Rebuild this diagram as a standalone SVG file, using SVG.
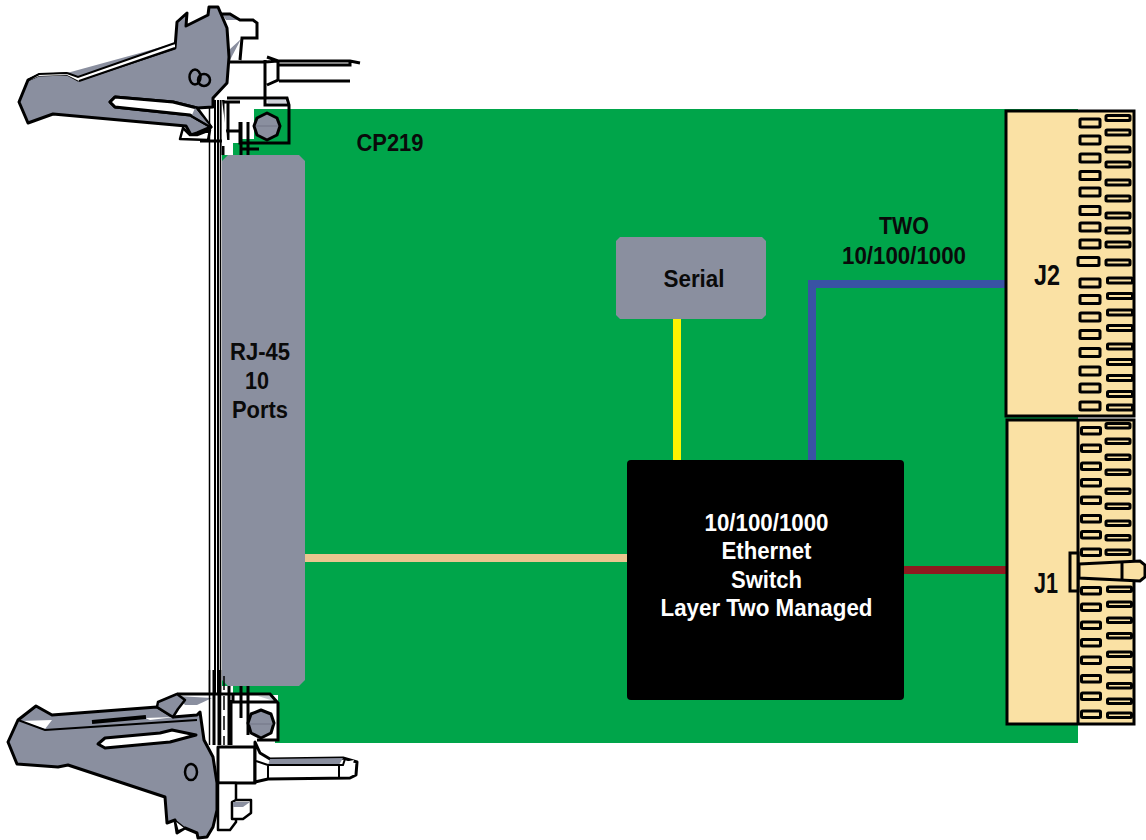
<svg xmlns="http://www.w3.org/2000/svg" width="1146" height="840" viewBox="0 0 1146 840">
<style>
.t{font-family:"Liberation Sans",Arial,sans-serif;font-weight:700;font-size:23.500px;text-anchor:middle;fill:#0a0a0a}
.big{font-size:29px}
.wt{fill:#fff}
.w{fill:#fff}
.g{fill:#8a8f9f}
.gs{fill:#8a8f9f;stroke:#000;stroke-width:3;stroke-linejoin:round}
.ws{fill:#fff;stroke:#000;stroke-width:3;stroke-linejoin:round}
.l{fill:none;stroke:#000;stroke-width:3}
.m{fill:none;stroke:#000;stroke-width:2}
.lt{fill:none;stroke:#000;stroke-width:1.500}
.hair{fill:none;stroke:#6c7080;stroke-width:.8}
.conn{fill:#fae1a4;stroke:#000;stroke-width:3}
.pin{fill:#fae1a4;stroke:#000;stroke-width:3}
.wire{fill:none;stroke-width:8}
</style>
<rect width="1146" height="840" fill="#fff"/>
<g id="board">
<path d="M254 109H1078V743H275V740H258V720H233V686H222V155H233V139H254Z" fill="#00a54a"/>
<path class="w" d="M248 695H278V738H248Z"/>
<path fill="#00a54a" d="M278 703V740H282V703Z"/>
</g>
<g id="faceplate-rails">
<path class="lt" d="M209.500 100V745M220.500 100V745"/>
<path class="m" d="M215 100V745M218 100V745"/>
</g>
<g id="connectors">
<path class="wire" stroke="#fff200" d="M677 319V460"/>
<path class="wire" stroke="#3953a4" d="M812 460V284H1006"/>
<path class="wire" stroke="#e9c690" d="M305 558H627"/>
<path class="wire" stroke="#8e1a1f" d="M904 570H1006"/>
</g>
<g id="rj45">
<path class="g" d="M228 155H299L305 161V680L299 686H228L222 680V161Z"/>
<text class="t" x="260" y="360" textLength="60" lengthAdjust="spacingAndGlyphs">RJ-45</text>
<text class="t" x="257" y="389" textLength="24" lengthAdjust="spacingAndGlyphs">10</text>
<text class="t" x="260" y="418" textLength="56" lengthAdjust="spacingAndGlyphs">Ports</text>
</g>
<g id="label-cp219"><text class="t" x="390" y="151" textLength="67" lengthAdjust="spacingAndGlyphs">CP219</text></g>
<g id="serial">
<path class="g" d="M620 237H762L766 241V315L762 319H620L616 315V241Z"/>
<text class="t" x="694" y="287" textLength="61" lengthAdjust="spacingAndGlyphs">Serial</text>
</g>
<g id="switch">
<rect x="627" y="460" width="277" height="240" rx="4" fill="#000"/>
<text class="t wt" x="766.500" y="531" textLength="124" lengthAdjust="spacingAndGlyphs">10/100/1000</text>
<text class="t wt" x="766.500" y="559" textLength="90" lengthAdjust="spacingAndGlyphs">Ethernet</text>
<text class="t wt" x="766.500" y="588" textLength="71" lengthAdjust="spacingAndGlyphs">Switch</text>
<text class="t wt" x="766.500" y="616" textLength="212" lengthAdjust="spacingAndGlyphs">Layer Two Managed</text>
</g>
<g id="label-two">
<text class="t" x="904" y="234" textLength="50" lengthAdjust="spacingAndGlyphs">TWO</text>
<text class="t" x="904" y="264" textLength="124" lengthAdjust="spacingAndGlyphs">10/100/1000</text>
</g>
<g id="j2">
<rect class="conn" x="1006" y="111" width="128" height="305"/>
<g>
<rect class="pin" x="1080" y="119" width="20" height="8" rx="1"/><rect class="pin" x="1080" y="136" width="20" height="8" rx="1"/><rect class="pin" x="1080" y="154" width="20" height="8" rx="1"/><rect class="pin" x="1080" y="171.500" width="20" height="8" rx="1"/><rect class="pin" x="1080" y="188" width="20" height="8" rx="1"/><rect class="pin" x="1080" y="206.500" width="20" height="8" rx="1"/><rect class="pin" x="1080" y="223" width="20" height="8" rx="1"/><rect class="pin" x="1080" y="240" width="20" height="8" rx="1"/><rect class="pin" x="1078" y="257.500" width="21" height="8" rx="1"/><rect class="pin" x="1080" y="279" width="20" height="8" rx="1"/><rect class="pin" x="1080" y="295.500" width="20" height="8" rx="1"/><rect class="pin" x="1080" y="313" width="20" height="8" rx="1"/><rect class="pin" x="1080" y="330.500" width="20" height="8" rx="1"/><rect class="pin" x="1080" y="348.500" width="20" height="8" rx="1"/><rect class="pin" x="1080" y="367" width="20" height="8" rx="1"/><rect class="pin" x="1080" y="384" width="20" height="8" rx="1"/><rect class="pin" x="1080" y="402" width="20" height="8" rx="1"/>
<rect class="pin" x="1106" y="115.500" width="24" height="5" rx="1"/><rect class="pin" x="1106" y="130" width="24" height="5" rx="1"/><rect class="pin" x="1106" y="147" width="24" height="5" rx="1"/><rect class="pin" x="1106" y="162" width="24" height="5" rx="1"/><rect class="pin" x="1106" y="180" width="24" height="5" rx="1"/><rect class="pin" x="1106" y="196" width="24" height="5" rx="1"/><rect class="pin" x="1106" y="213" width="24" height="5" rx="1"/><rect class="pin" x="1106" y="228" width="24" height="5" rx="1"/><rect class="pin" x="1106" y="242" width="24" height="5" rx="1"/><rect class="pin" x="1106" y="260" width="24" height="5" rx="1"/><rect class="pin" x="1107.500" y="278" width="25" height="5" rx="1"/><rect class="pin" x="1107.500" y="293.500" width="25" height="5" rx="1"/><rect class="pin" x="1107.500" y="310" width="25" height="5" rx="1"/><rect class="pin" x="1107.500" y="325.500" width="25" height="5" rx="1"/><rect class="pin" x="1107.500" y="344" width="25" height="5" rx="1"/><rect class="pin" x="1107.500" y="359.500" width="25" height="5" rx="1"/><rect class="pin" x="1107.500" y="375.500" width="25" height="5" rx="1"/><rect class="pin" x="1107.500" y="391.500" width="25" height="5" rx="1"/><rect class="pin" x="1107.500" y="405" width="25" height="5" rx="1"/>
</g>
<text class="t big" x="1047" y="285" textLength="26" lengthAdjust="spacingAndGlyphs">J2</text>
</g>
<g id="j1">
<rect class="conn" x="1007" y="420" width="127" height="304"/>
<path class="l" d="M1078 420V724"/>
<g>
<rect class="pin" x="1081.500" y="427.500" width="19" height="6.500" rx="1"/><rect class="pin" x="1081.500" y="445" width="19" height="6.500" rx="1"/><rect class="pin" x="1081.500" y="463" width="19" height="6.500" rx="1"/><rect class="pin" x="1081.500" y="479.500" width="19" height="6.500" rx="1"/><rect class="pin" x="1081.500" y="497" width="19" height="6.500" rx="1"/><rect class="pin" x="1081.500" y="515.500" width="19" height="6.500" rx="1"/><rect class="pin" x="1081.500" y="531.500" width="19" height="6.500" rx="1"/><rect class="pin" x="1081.500" y="549" width="19" height="6.500" rx="1"/><rect class="pin" x="1081.500" y="587.500" width="19" height="6.500" rx="1"/><rect class="pin" x="1081.500" y="604" width="19" height="6.500" rx="1"/><rect class="pin" x="1081.500" y="622" width="19" height="6.500" rx="1"/><rect class="pin" x="1081.500" y="639.500" width="19" height="6.500" rx="1"/><rect class="pin" x="1081.500" y="657" width="19" height="6.500" rx="1"/><rect class="pin" x="1081.500" y="675.500" width="19" height="6.500" rx="1"/><rect class="pin" x="1081.500" y="693" width="19" height="6.500" rx="1"/><rect class="pin" x="1081.500" y="711" width="19" height="6.500" rx="1"/>
<rect class="pin" x="1106" y="423.500" width="24" height="4.500" rx="1"/><rect class="pin" x="1106" y="439" width="24" height="4.500" rx="1"/><rect class="pin" x="1106" y="455" width="24" height="4.500" rx="1"/><rect class="pin" x="1106" y="470" width="24" height="4.500" rx="1"/><rect class="pin" x="1106" y="489" width="24" height="4.500" rx="1"/><rect class="pin" x="1106" y="504" width="24" height="4.500" rx="1"/><rect class="pin" x="1106" y="521" width="24" height="4.500" rx="1"/><rect class="pin" x="1106" y="535.500" width="24" height="4.500" rx="1"/><rect class="pin" x="1106" y="550" width="24" height="4.500" rx="1"/><rect class="pin" x="1107.500" y="587" width="24" height="4.500" rx="1"/><rect class="pin" x="1107.500" y="602" width="24" height="4.500" rx="1"/><rect class="pin" x="1107.500" y="618" width="24" height="4.500" rx="1"/><rect class="pin" x="1107.500" y="633.500" width="24" height="4.500" rx="1"/><rect class="pin" x="1107.500" y="652" width="24" height="4.500" rx="1"/><rect class="pin" x="1107.500" y="667.500" width="24" height="4.500" rx="1"/><rect class="pin" x="1107.500" y="683.500" width="24" height="4.500" rx="1"/><rect class="pin" x="1107.500" y="699" width="24" height="4.500" rx="1"/><rect class="pin" x="1107.500" y="713" width="24" height="4.500" rx="1"/>
</g>
<rect class="conn" x="1070" y="553" width="8" height="38"/>
<path class="conn" d="M1079 564L1120 562L1140 561L1145 565V577L1140 581L1120 580L1079 578Z"/>
<path class="l" d="M1122 562V580"/>
<text class="t big" x="1046" y="593" textLength="24" lengthAdjust="spacingAndGlyphs">J1</text>
</g>
<g id="latch-top">
<path class="w" d="M220 14H230L240 20H253L257 23V38H242L240 57H267L278 61V98H265V98H228V60Z"/>
<path class="g" d="M222 14H230L240 20H226ZM241 39L230 60L229 50Z"/>
<path class="l" d="M220 14H230L240 20H253L257 23V38H242L240 60M230 62H265L278 61H350L360 63M265 60V105H288M278 65H350V61M278 62V80L267 85M279 81H350M267 57L278 61"/>
<path class="w" d="M226 99H240V143H226Z"/>
<path class="l" d="M227 98H287L289 105V143H240V122M224 102H240M228 102V140M226 131H240M200 141H226"/>
<path class="g" d="M267 99H285L287 104L268 104Z" opacity=".4"/>
<path class="l" d="M223 100V155M241 122V155M248 122V155M240 149H259"/>
<path class="w" d="M110 100L115 97L173 102L197 108L211 127L190 115L115 107Z"/>
<path class="w" d="M222 100V146H228"/>
<path class="g" d="M67 73L140 53L175 43L78 77Z"/>
<path class="gs" d="M19 102L28 80L39 75L67 74L78 80L175 48L177 22L187 13L186 26L208 15L209 7L218 7L227 28L229 57L227 83L213 98V107L197 108L173 102L115 97L110 102L115 107L190 115L211 127L197 133L191 135L186 126L53 114L28 123Z"/>
<path class="w" d="M78 77L175 44V48L79 81L67 75L39 76L30 80L39 74L67 73Z"/>
<path class="m" d="M67 73L78 77L175 43M79 81L175 48M28 80L39 74L67 73"/>
<path class="ws" d="M110 102L115 97L173 102L197 108L211 127L190 115L115 107Z"/>
<path class="g" d="M195 108L209 125L192 115Z"/>
<path class="ws" d="M183 128L180 139L208 140L210 130L197 135L190 135Z" style="stroke-width:2.500"/>
<ellipse cx="195" cy="77" rx="5.500" ry="7.500" fill="none" stroke="#000" stroke-width="2.500"/>
<circle cx="204" cy="80" r="6" fill="none" stroke="#000" stroke-width="2.500"/>
<path class="gs" d="M254 126L257 118L267 113L277 118L280 126L277 135L267 140L257 135Z"/>
<path class="hair" d="M256 126H278"/>
</g>
<g id="latch-bottom">
<path class="w" d="M177 694H270L278 703V740H257V746H204L200 713L185 708Z"/>
<path class="g" d="M177 696L212 698L197 705L185 705Z"/>
<path class="g" d="M258 696H270L277 702Z" opacity=".5"/>
<path class="l" d="M177 694H270L278 703V740H257M232 702H278M233 694V702M241 686V718M248 686V735M231 700V745"/>
<path class="lt" d="M209.500 670V745M220.500 670V745"/>
<path class="l" d="M214 670V745M219 670V745M229 686V745"/>
<path d="M224 676V745" stroke="#000" stroke-width="1.500" stroke-dasharray="14 6" fill="none"/>
<path class="ws" d="M218 747H255V783H218Z"/>
<path class="ws" d="M255 742L260 753L270 759L343 758L357 762L356 775L350 778L268 779L255 782Z"/>
<path class="g" d="M270 759L343 758L339 765H268Z"/>
<path class="w" d="M344 762L354 760L352 766L342 765Z"/>
<path class="m" d="M256 761L268 765V779M268 765H343L345 759M339 765V779"/>
<path class="gs" d="M8 742L18 720L36 706L52 715L157 707L173 717L197 715L200 712L204 740L213 757L217 783V810L213 827L207 837L198 838L197 833L185 828L177 833L175 820L167 823L165 797L68 765L58 767L17 764Z"/>
<path class="w" d="M20 721L52 720L45 729ZM145 718L175 717L150 720Z"/>
<path class="m" d="M18 720L45 730L197 720"/>
<path d="M92 722L146 717" stroke="#000" stroke-width="4"/>
<path class="ws" d="M98 744L105 738L160 733L172 730L196 735L170 742L105 748Z"/>
<path class="gs" d="M158 702L177 694L185 700L178 709L173 717L157 707Z" style="stroke-width:2.500"/>
<path class="ws" d="M175 820L178 831L185 828Z" style="stroke-width:1.500"/>
<ellipse cx="191" cy="772" rx="6" ry="8" fill="none" stroke="#000" stroke-width="2.500"/>
<path class="ws" d="M218 783V830H230L236 822V783Z" style="stroke-width:2.500"/>
<path class="ws" d="M232 802L236 800H251V813L243 819H232Z" style="stroke-width:2.500"/>
<path class="g" d="M233 802H250L243 807H233Z"/>
<path class="gs" d="M248 723L251 714L261 710L271 714L274 723L271 733L261 738L251 733Z"/>
<path class="hair" d="M249 724H273"/>
</g>
</svg>
